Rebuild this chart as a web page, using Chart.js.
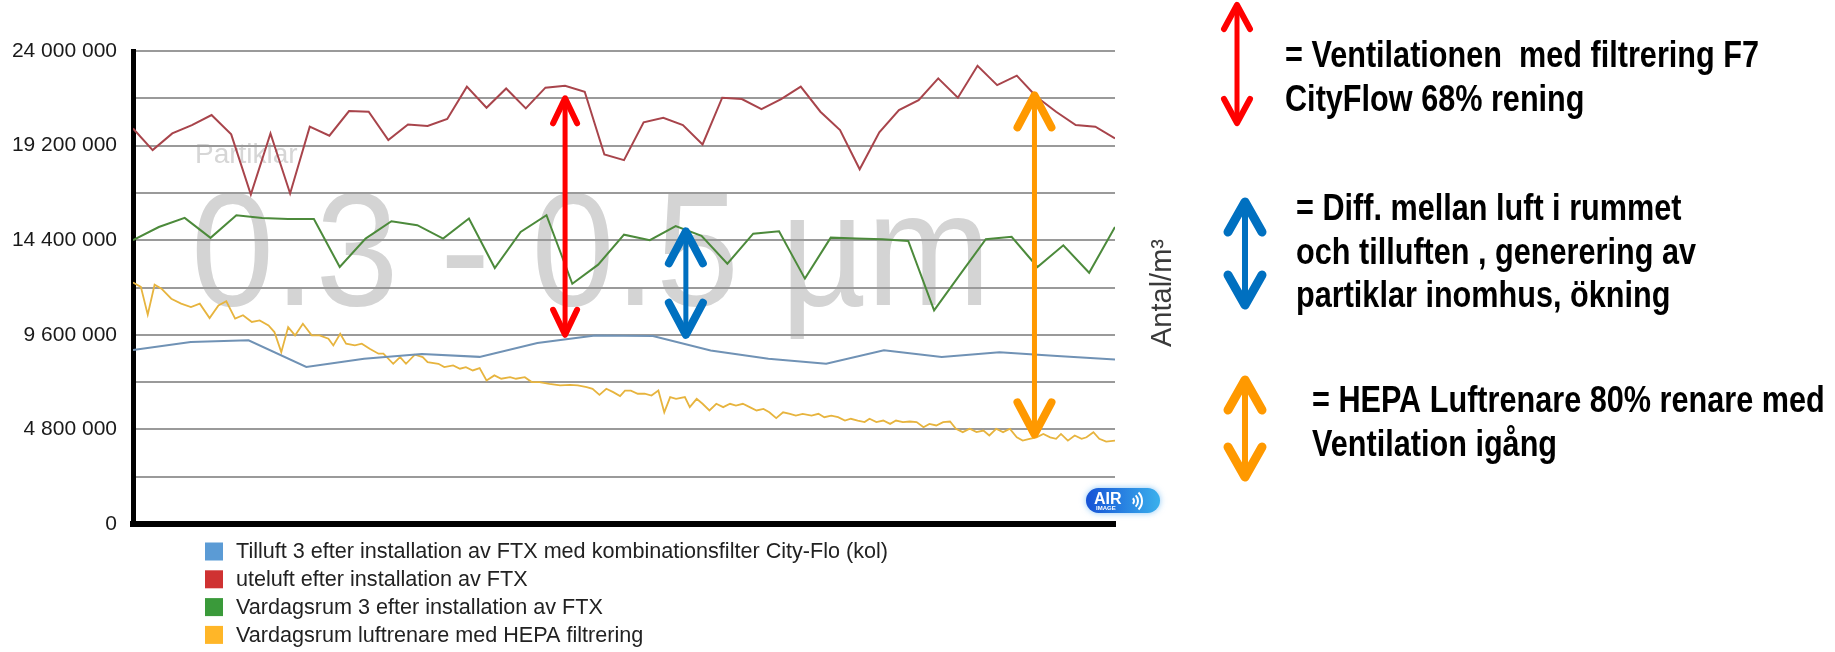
<!DOCTYPE html>
<html>
<head>
<meta charset="utf-8">
<script src="https://cdn.jsdelivr.net/npm/chart.js@4.4.1/dist/chart.umd.min.js"></script>
<style>
  html, body { margin: 0; padding: 0; background: #fff; }
  #wrap { position: relative; width: 1835px; height: 652px; }
</style>
</head>
<body>
<div id="wrap"><canvas id="myLineChart" width="1835" height="652"></canvas></div>
<script>
// serienamn (legend)
const serieNamn = [
  "Tilluft 3 efter installation av FTX med kombinationsfilter City-Flo (kol)",
  "uteluft efter installation av FTX",
  "Vardagsrum 3 efter installation av FTX",
  "Vardagsrum luftrenare med HEPA filtrering"
];

// värden i miljoner partiklar/m³
const tilluft = [8.83, 9.23, 9.32, 7.97, 8.38, 8.63, 8.48, 9.18, 9.57, 9.54, 8.80, 8.38, 8.13, 8.81, 8.47, 8.72, 8.52, 8.35];

const uteluft = [20.07, 18.97, 19.82, 20.24, 20.75, 19.77, 16.72, 19.82, 16.77, 20.16,
  19.70, 20.95, 20.92, 19.48, 20.27, 20.20, 20.55, 22.19, 21.12, 22.10,
  21.09, 22.14, 22.24, 21.93, 18.75, 18.46, 20.38, 20.61, 20.24, 19.26,
  21.63, 21.56, 21.05, 21.56, 22.19, 20.92, 19.99, 18.00, 19.87, 21.00,
  21.51, 22.61, 21.63, 23.25, 22.27, 22.75, 21.68, 20.92, 20.24, 20.16, 19.56];

const vardagsrum = [14.40, 15.07, 15.53, 14.52, 15.67, 15.53, 15.47, 15.47, 13.04, 14.48,
  15.36, 15.16, 14.48, 15.50, 12.99, 14.82, 15.67, 12.19, 13.16, 14.68,
  14.40, 15.12, 14.62, 13.21, 14.73, 14.85, 12.45, 14.53, 14.48, 14.45,
  14.36, 10.84, 12.65, 14.45, 14.57, 13.04, 14.14, 12.75, 15.07];

// HEPA-serien har tätare mätpunkter: tid (0-100) och värde
const hepaTid = [0.0, 0.8, 1.5, 2.2, 2.9, 3.9, 4.9, 5.9, 6.8, 7.8,
  8.7, 9.5, 10.4, 11.2, 12.1, 12.9, 13.8, 14.4, 15.1, 15.8,
  16.5, 17.3, 18.2, 19.0, 19.9, 20.4, 21.1, 21.7, 22.6, 23.3,
  24.1, 25.0, 25.5, 26.5, 27.2, 27.8, 28.7, 29.5, 30.0, 31.1,
  31.7, 32.6, 33.3, 33.9, 34.6, 35.3, 36.0, 36.8, 37.5, 38.4,
  39.0, 39.9, 40.6, 41.4, 42.4, 43.5, 44.5, 45.3, 46.2, 46.8,
  47.5, 48.2, 48.9, 49.6, 50.1, 50.7, 51.4, 52.1, 52.8, 53.5,
  54.1, 54.7, 55.3, 56.2, 56.7, 57.4, 58.0, 58.7, 59.4, 60.1,
  60.8, 61.4, 62.1, 62.8, 63.5, 64.2, 64.8, 65.5, 66.2, 66.9,
  67.5, 68.2, 69.1, 69.8, 70.4, 71.1, 71.8, 72.5, 73.1, 73.8,
  74.5, 75.0, 75.7, 76.4, 77.1, 77.7, 78.4, 79.1, 79.8, 80.5,
  81.1, 81.8, 82.5, 83.2, 83.8, 84.5, 85.2, 85.9, 86.6, 87.2,
  87.9, 88.6, 89.3, 90.0, 90.6, 91.3, 92.0, 92.7, 93.4, 94.0,
  94.5, 95.2, 95.9, 96.6, 97.1, 97.8, 98.4, 99.1, 100.0];
const hepa = [12.25, 12.03, 10.62, 12.14, 11.94, 11.43, 11.18, 11.01, 11.18, 10.45,
  11.09, 11.30, 10.42, 10.59, 10.25, 10.33, 10.08, 9.74, 8.72, 9.99,
  9.57, 10.16, 9.57, 9.57, 9.40, 9.06, 9.65, 9.15, 9.06, 9.15,
  8.89, 8.64, 8.64, 8.13, 8.47, 8.13, 8.59, 8.47, 8.21, 8.13,
  7.96, 8.05, 7.88, 7.96, 7.79, 7.91, 7.28, 7.54, 7.37, 7.45,
  7.37, 7.45, 7.20, 7.20, 7.11, 7.03, 7.06, 7.03, 6.94, 6.86,
  6.55, 6.86, 6.69, 6.49, 6.77, 6.77, 6.61, 6.61, 6.52, 6.77,
  5.67, 6.44, 6.35, 6.44, 5.93, 6.35, 6.10, 5.76, 6.10, 5.93,
  6.10, 6.01, 6.10, 5.93, 5.76, 5.84, 5.67, 5.37, 5.67, 5.59,
  5.50, 5.59, 5.50, 5.59, 5.42, 5.50, 5.42, 5.25, 5.34, 5.25,
  5.17, 5.34, 5.17, 5.25, 5.08, 5.25, 5.17, 5.20, 5.17, 4.91,
  5.08, 5.00, 5.17, 5.20, 4.83, 4.66, 4.83, 4.66, 4.74, 4.49,
  4.83, 4.66, 4.83, 4.40, 4.23, 4.32, 4.40, 4.57, 4.40, 4.32,
  4.57, 4.23, 4.49, 4.32, 4.40, 4.66, 4.32, 4.18, 4.23];

// pilar i diagrammet: tid, övre och undre värde
const pilTid = [44, 56.3, 91.8];
const pilHog = [21.6, 14.85, 21.75];
const pilLag = [9.6, 9.6, 4.55];

// förklaringstexter till höger
const forklaring = [
  ["= Ventilationen  med filtrering F7", "CityFlow 68% rening"],
  ["= Diff. mellan luft i rummet", "och tilluften , generering av", "partiklar inomhus, ökning"],
  ["= HEPA Luftrenare 80% renare med", "Ventilation igång"]
];

const PIL_FARGER = ["#ff0000", "#0070c0", "#ff9900"];
const FONT = '"Liberation Sans", Arial, sans-serif';

function jamnSerie(values) {
  return values.map((v, i) => ({ x: i * 100 / (values.length - 1), y: v }));
}

function formatera(n) {
  return String(n).replace(/\B(?=(\d{3})+(?!\d))/g, " ");
}

function ritaPil(ctx, x, yTop, yBot, color, shaft, stroke, dx, dy) {
  ctx.save();
  ctx.strokeStyle = color;
  ctx.lineCap = "round";
  ctx.lineJoin = "round";
  ctx.lineWidth = shaft;
  ctx.beginPath();
  ctx.moveTo(x, yTop + 3);
  ctx.lineTo(x, yBot - 3);
  ctx.stroke();
  ctx.lineWidth = stroke;
  ctx.beginPath();
  ctx.moveTo(x - dx, yTop + dy);
  ctx.lineTo(x, yTop);
  ctx.lineTo(x + dx, yTop + dy);
  ctx.moveTo(x - dx, yBot - dy);
  ctx.lineTo(x, yBot);
  ctx.lineTo(x + dx, yBot - dy);
  ctx.stroke();
  ctx.restore();
}

const vattenmarke = {
  id: "vattenmarke",
  beforeDraw(chart) {
    const ctx = chart.ctx;
    ctx.save();
    ctx.fillStyle = "#d4d4d4";
    ctx.font = "162px " + FONT;
    ctx.textBaseline = "alphabetic";
    const txt = "0.3 - 0.5 \u00b5m";
    const w = ctx.measureText(txt).width;
    ctx.translate(191, 305);
    ctx.scale(800 / w, 1);
    ctx.fillText(txt, 0, 0);
    ctx.restore();
    ctx.save();
    ctx.fillStyle = "#d6d6d6";
    ctx.font = "28px " + FONT;
    ctx.fillText("Partiklar", 195, 163);
    ctx.restore();
  }
};

const markeringar = {
  id: "markeringar",
  afterDatasetsDraw(chart) {
    const ctx = chart.ctx;
    const xs = chart.scales.x, ys = chart.scales.y;
    const stil = [[5, 6, 12, 25], [5, 8, 17, 32], [5, 8, 17, 32]];
    pilTid.forEach((t, i) => {
      const s = stil[i];
      ritaPil(ctx, xs.getPixelForValue(t), ys.getPixelForValue(pilHog[i]),
        ys.getPixelForValue(pilLag[i]), PIL_FARGER[i], s[0], s[1], s[2], s[3]);
    });

    // AIR IMAGE logga
    ctx.save();
    const lx = 1086, ly = 488, lw = 74, lh = 25;
    const g = ctx.createLinearGradient(lx, 0, lx + lw, 0);
    g.addColorStop(0, "#1652d6");
    g.addColorStop(1, "#3ab0ec");
    ctx.shadowColor = "rgba(60,160,240,0.6)";
    ctx.shadowBlur = 6;
    ctx.fillStyle = g;
    ctx.beginPath();
    ctx.roundRect(lx, ly, lw, lh, lh / 2);
    ctx.fill();
    ctx.shadowBlur = 0;
    ctx.fillStyle = "#fff";
    ctx.font = "bold 16px " + FONT;
    ctx.fillText("AIR", lx + 8, ly + 16);
    ctx.font = "bold 6px " + FONT;
    ctx.fillText("IMAGE", lx + 10, ly + 22);
    ctx.strokeStyle = "#fff";
    ctx.lineWidth = 2;
    [4, 8, 12].forEach(r => {
      ctx.beginPath();
      ctx.arc(lx + 44, ly + 13, r, -Math.PI / 4, Math.PI / 4);
      ctx.stroke();
    });
    ctx.restore();
  },
  afterDraw(chart) {
    const ctx = chart.ctx;

    // legend
    ctx.save();
    ctx.font = "21.6px " + FONT;
    ctx.textBaseline = "middle";
    chart.data.datasets.forEach((ds, i) => {
      const y = 551.5 + i * 27.8;
      ctx.fillStyle = ds.backgroundColor;
      ctx.fillRect(205, y - 9, 18, 18);
      ctx.fillStyle = "#222";
      ctx.fillText(ds.label, 236, y + 1);
    });
    ctx.restore();

    // axeltitel
    ctx.save();
    ctx.fillStyle = "#3a3a3a";
    ctx.font = "29px " + FONT;
    ctx.textAlign = "center";
    ctx.textBaseline = "alphabetic";
    ctx.translate(1171, 293);
    ctx.rotate(-Math.PI / 2);
    ctx.fillText("Antal/m\u00b3", 0, 0);
    ctx.restore();

    // förklaring till höger
    const pilPos = [[1237, 5, 123, 5, 6, 13, 24], [1245, 202, 305, 6, 9, 17, 30], [1245, 380, 477, 6, 9, 17, 30]];
    const textPos = [[1285, 67], [1296, 220], [1312, 412]];
    ctx.save();
    ctx.font = 'bold 36px "Liberation Sans Narrow", ' + FONT;
    ctx.fillStyle = "#000";
    const sx = 474 / ctx.measureText(forklaring[0][0]).width;
    forklaring.forEach((rader, i) => {
      const p = pilPos[i];
      ritaPil(ctx, p[0], p[1], p[2], PIL_FARGER[i], p[3], p[4], p[5], p[6]);
      rader.forEach((rad, j) => {
        ctx.save();
        ctx.translate(textPos[i][0], textPos[i][1] + j * 43.5);
        ctx.scale(sx, 1);
        ctx.fillText(rad, 0, 0);
        ctx.restore();
      });
    });
    ctx.restore();
  }
};

const ctxLine = document.getElementById("myLineChart");

new Chart(ctxLine, {
  type: "line",
  data: {
    datasets: [
      { label: serieNamn[0], data: jamnSerie(tilluft), borderColor: "#7092b5", backgroundColor: "#5b9bd5" },
      { label: serieNamn[1], data: jamnSerie(uteluft), borderColor: "#a8444b", backgroundColor: "#cf3232" },
      { label: serieNamn[2], data: jamnSerie(vardagsrum), borderColor: "#4c8a3b", backgroundColor: "#3a9a3a" },
      { label: serieNamn[3], data: hepaTid.map((t, i) => ({ x: t, y: hepa[i] })), borderColor: "#e7b43e", backgroundColor: "#ffb628", borderWidth: 1.8 }
    ]
  },
  options: {
    responsive: false,
    animation: false,
    layout: { padding: { top: 51, right: 720, bottom: 0, left: 0 } },
    elements: {
      point: { radius: 0 },
      line: { tension: 0, borderWidth: 2, fill: false }
    },
    plugins: {
      legend: { display: false },
      tooltip: { enabled: false }
    },
    scales: {
      x: {
        type: "linear",
        min: 0,
        max: 100,
        ticks: { display: false },
        grid: { display: false, drawTicks: false },
        border: { color: "#000", width: 6 },
        afterFit: (s) => { s.height = 128; }
      },
      y: {
        min: 0,
        max: 24,
        ticks: {
          stepSize: 2.4,
          padding: 16,
          color: "#1a1a1a",
          font: { family: FONT, size: 21 },
          callback: (v) => {
            const n = Math.round(v * 1e6);
            return n % 4800000 === 0 ? formatera(n) : "";
          }
        },
        grid: { color: "#9a9a9a", lineWidth: 2, drawTicks: false },
        border: { color: "#000", width: 5 },
        afterFit: (s) => { s.width = 133; }
      }
    }
  },
  plugins: [vattenmarke, markeringar]
});
</script>
</body>
</html>
